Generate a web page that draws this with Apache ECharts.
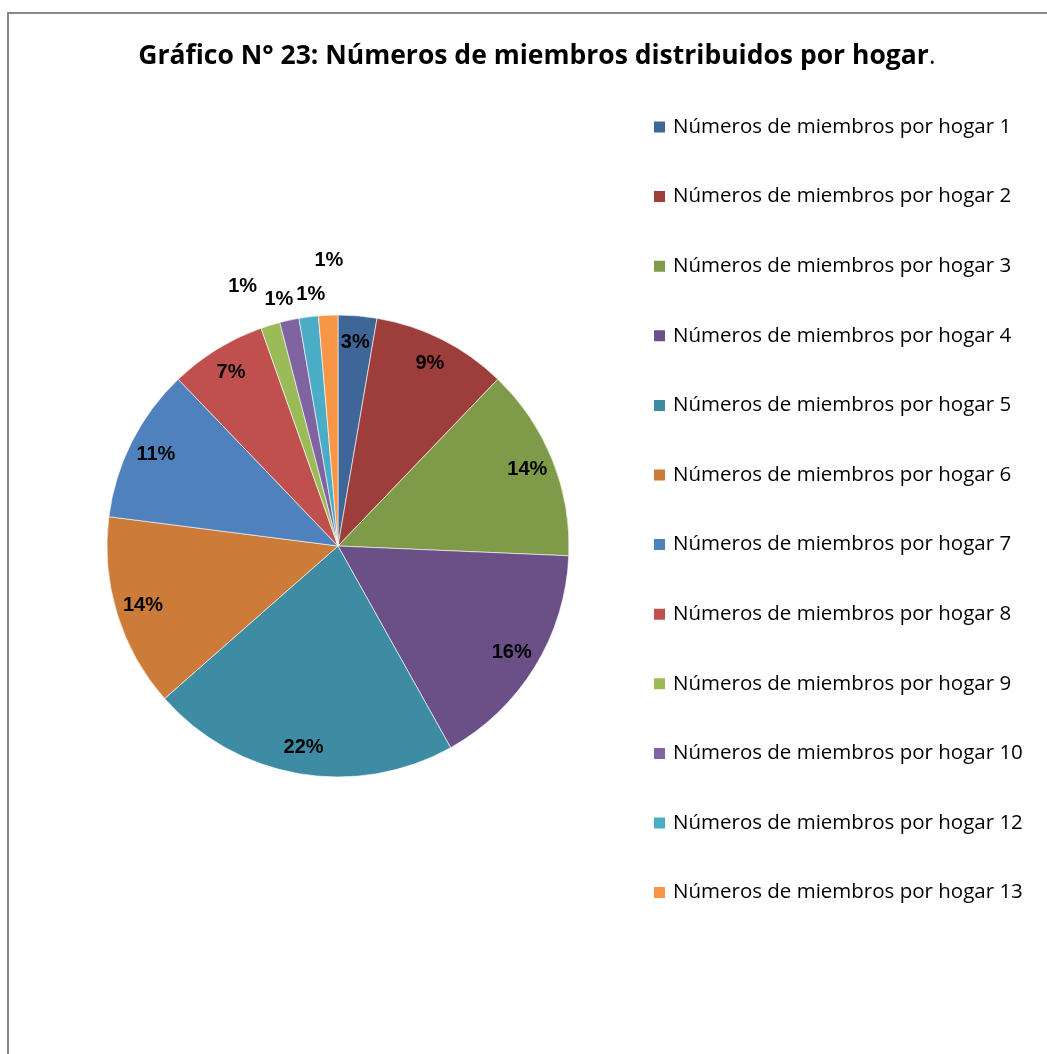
<!DOCTYPE html>
<html>
<head>
<meta charset="utf-8">
<script src="https://cdn.jsdelivr.net/npm/echarts@6/dist/echarts.min.js"></script>
<style>
html,body{margin:0;padding:0;background:#fff;}
#frame{position:absolute;left:7px;top:12px;width:1200px;height:1200px;border-left:2px solid #878787;border-top:2px solid #878787;}
#chart{position:absolute;left:0;top:0;width:1047px;height:1054px;}
</style>
</head>
<body>
<div id="frame"></div>
<div id="chart"></div>
<script>
// ---- data ----
var categories = [
  'Números de miembros por hogar 1',
  'Números de miembros por hogar 2',
  'Números de miembros por hogar 3',
  'Números de miembros por hogar 4',
  'Números de miembros por hogar 5',
  'Números de miembros por hogar 6',
  'Números de miembros por hogar 7',
  'Números de miembros por hogar 8',
  'Números de miembros por hogar 9',
  'Números de miembros por hogar 10',
  'Números de miembros por hogar 12',
  'Números de miembros por hogar 13'
];
var hogares = [2, 7, 10, 12, 16, 10, 8, 5, 1, 1, 1, 1];
var titleText = 'Gráfico N° 23: Números de miembros distribuidos por hogar';

// ---- styles ----
var colors = ['#3E6698', '#9E3E3B', '#7F9A48', '#6A5087', '#3E8CA3', '#CC7B38',
              '#4F81BD', '#C0504D', '#9BBB59', '#8064A2', '#4BACC6', '#F79646'];
var outsideLen = [0, 0, 0, 0, 0, 0, 0, 0, 40, 21, 23, 55];
var outsideNudge = [0, 0, 0, 0, 0, 0, 0, 0, -16, -6, 5, 3];
var labelFont = {fontFamily: '"Liberation Sans", Arial, sans-serif', fontWeight: 'bold', fontSize: 20, color: '#000'};
var uiFont = '"Open Sans", "Noto Sans", sans-serif';

var total = hogares.reduce(function (a, b) { return a + b; }, 0);
var mainData = categories.map(function (c, i) {
  return {name: c, value: hogares[i], itemStyle: {color: colors[i]}};
});
var labelData = categories.map(function (c, i) {
  var small = outsideLen[i] > 0;
  return {
    name: c, value: hogares[i],
    label: {position: small ? 'outside' : 'inside', distanceToLabelLine: 0},
    labelLine: {show: false, length: small ? outsideLen[i] : 0, length2: 0}
  };
});

var chart = echarts.init(document.getElementById('chart'), null, {renderer: 'canvas'});
chart.setOption({
  animation: false,
  backgroundColor: 'transparent',
  color: colors,
  title: {
    text: '{b|' + titleText + '}{n|.}',
    left: 532, top: 38, textAlign: 'center',
    textStyle: {
      rich: {
        b: {fontFamily: uiFont, fontWeight: 'bold', fontSize: 26.5, color: '#000'},
        n: {fontFamily: uiFont, fontWeight: 'normal', fontSize: 26.5, color: '#000'}
      }
    }
  },
  legend: {
    orient: 'vertical',
    left: 652, top: 116.5,
    padding: 0,
    itemWidth: 13, itemHeight: 13, itemGap: 48.6,
    icon: 'rect',
    data: categories.map(function (c, i) { return {name: c, itemStyle: {color: colors[i]}}; }),
    textStyle: {fontFamily: uiFont, fontSize: 20.5, color: '#000', lineHeight: 21, padding: [0, 0, 0, 2]}
  },
  series: [
    {
      type: 'pie',
      name: 'main',
      center: [338, 546],
      radius: [0, 231],
      startAngle: 90,
      clockwise: true,
      avoidLabelOverlap: false,
      label: {show: false},
      labelLine: {show: false},
      itemStyle: {borderColor: '#ffffff', borderWidth: 0.6},
      emphasis: {disabled: true},
      data: mainData
    },
    {
      type: 'pie',
      name: 'labels',
      center: [338, 546],
      radius: [171, 231],
      startAngle: 90,
      clockwise: true,
      silent: true,
      avoidLabelOverlap: false,
      itemStyle: {color: 'rgba(0,0,0,0)', borderWidth: 0},
      emphasis: {disabled: true},
      label: Object.assign({
        show: true,
        formatter: function (p) { return Math.round(p.value / total * 100) + '%'; }
      }, labelFont),
      labelLine: {show: false},
      labelLayout: function (p) {
        var i = p.dataIndex;
        if (outsideLen[i] > 0) {
          return {align: 'center', dx: outsideNudge[i]};
        }
        return {};
      },
      data: labelData
    }
  ]
});
</script>
</body>
</html>
